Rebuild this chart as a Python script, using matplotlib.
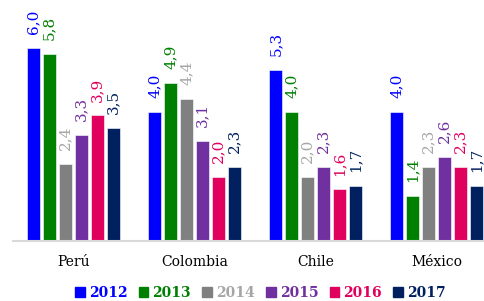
import matplotlib
matplotlib.use('Agg')
import matplotlib.pyplot as plt
from matplotlib.patches import Patch
import numpy as np

plt.rcParams['font.family'] = ['DejaVu Serif']

countries = ['Perú', 'Colombia', 'Chile', 'México']
years = ['2012', '2013', '2014', '2015', '2016', '2017']
v2012 = [6.0, 4.0, 5.3, 4.0]
v2013 = [5.8, 4.9, 4.0, 1.4]
v2014 = [2.4, 4.4, 2.0, 2.3]
v2015 = [3.3, 3.1, 2.3, 2.6]
v2016 = [3.9, 2.0, 1.6, 2.3]
v2017 = [3.5, 2.3, 1.7, 1.7]
series = [v2012, v2013, v2014, v2015, v2016, v2017]

colors = ['#0000FF', '#008000', '#808080', '#7030A0', '#E0005E', '#002060']
label_colors = ['#0000FF', '#008000', '#A6A6A6', '#7030A0', '#E0005E', '#002060']

fig = plt.figure(figsize=(4.84, 3.01), dpi=100)
ax = fig.add_axes([13 / 484, 60 / 301, 1 - 13 / 484, 241 / 301])

x = np.arange(len(countries))
step = 0.132
width = 0.107
for i, vals in enumerate(series):
    pos = x + (i - 2.5) * step
    bars = ax.bar(pos, vals, width, color=colors[i], edgecolor='white', linewidth=0.4)
    for b, v in zip(bars, vals):
        ax.annotate(f'{v:.1f}'.replace('.', ','),
                    (b.get_x() + b.get_width() / 2, b.get_height()),
                    xytext=(0, 10), textcoords='offset points',
                    rotation=90, ha='center', va='bottom',
                    fontsize=11, color=label_colors[i])

ax.set_xlim(-0.5, 3.5 - 13 / 121)
ax.set_ylim(0, 241 / 32.2)
ax.set_yticks([])
ax.set_xticks(x)
ax.set_xticklabels(countries, fontsize=10)
ax.tick_params(axis='x', length=0, pad=10)
for s in ['top', 'right', 'left']:
    ax.spines[s].set_visible(False)
ax.spines['bottom'].set_color('#D9D9D9')
ax.spines['bottom'].set_linewidth(1.5)

handles = [Patch(color=c) for c in colors]
leg = fig.legend(handles, years, loc='center', bbox_to_anchor=(0.538, 8 / 301),
                 ncol=6, frameon=False, handlelength=0.7, handleheight=0.7,
                 handletextpad=0.3, columnspacing=0.8,
                 prop={'weight': 'bold', 'size': 10})
for t, c in zip(leg.get_texts(), label_colors):
    t.set_color(c)

fig.savefig('out.png', dpi=100)
